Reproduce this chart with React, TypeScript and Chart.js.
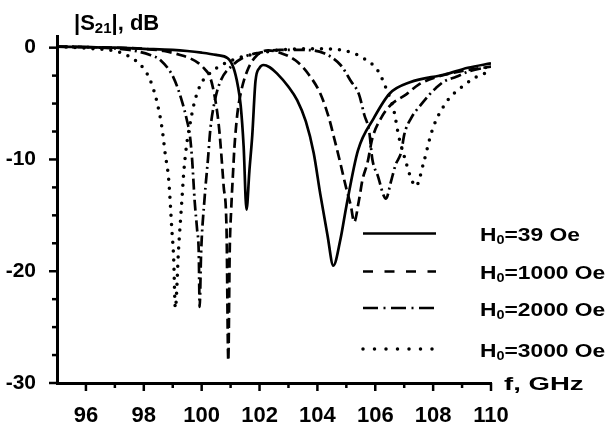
import { useEffect, useRef } from 'react';
import { Chart, registerables } from 'chart.js';

Chart.register(...registerables);

// ---- axis ticks ----
const xMajorTicks = [96, 98, 100, 102, 104, 106, 108, 110];
const xMinorTicks = [97, 99, 101, 103, 105, 107, 109];
const yMajorTicks = [0, -10, -20, -30];
const yMinorTicks = [-2.5, -5, -7.5, -12.5, -15, -17.5, -22.5, -25, -27.5];

// ---- series labels (H0, Oe) ----
const fieldLabels = ['39', '1000', '2000', '3000'];

// ---- H0 = 39 Oe (solid) ----
const freq39 = [95, 96, 97, 98, 99, 99.5, 100, 100.5, 100.9, 101.1, 101.25, 101.35, 101.45, 101.55, 101.65, 101.75, 101.86, 102, 102.14, 102.35, 102.6, 103, 103.3, 103.6, 103.87, 104.1, 104.35, 104.55, 104.8, 105, 105.4, 105.95, 106.5, 107.2, 108.4, 109.2, 110];
const s21_39 = [0.1, 0.05, 0, -0.1, -0.2, -0.3, -0.45, -0.65, -0.95, -1.8, -3.4, -5.2, -8.8, -14.5, -11, -7.8, -3.0, -1.8, -1.55, -1.75, -2.3, -3.5, -4.7, -6.6, -9.4, -13.1, -16.8, -19.5, -17.1, -14.2, -9.2, -6.3, -4.1, -3.1, -2.4, -1.8, -1.4];

// ---- H0 = 1000 Oe (dashed) ----
const freq1000 = [95, 97, 98, 98.7, 99.26, 99.6, 99.9, 100.1, 100.3, 100.48, 100.59, 100.65, 100.76, 100.86, 100.92, 100.97, 101.02, 101.09, 101.13, 101.23, 101.34, 101.57, 101.92, 102.3, 102.7, 103.25, 103.7, 104.1, 104.4, 104.58, 104.8, 104.98, 105.16, 105.27, 105.44, 105.56, 105.73, 105.9, 106.2, 106.54, 107.06, 107.5, 108.16, 108.97, 110];
const s21_1000 = [0.1, 0, -0.1, -0.3, -0.65, -0.95, -1.4, -1.9, -2.7, -4.8, -6.9, -8.6, -12.4, -16.3, -28, -18.1, -14.5, -10.9, -9.0, -6.0, -4.2, -2.1, -0.65, -0.25, -0.45, -1.15, -2.4, -4.1, -6.3, -8.1, -10.4, -12.4, -14.2, -15.6, -13.6, -11.8, -10.3, -8.1, -6.3, -5.1, -4.2, -3.3, -2.6, -2.1, -1.7];

// ---- H0 = 2000 Oe (dash-dot) ----
const freq2000 = [95, 96.5, 97.5, 98.22, 98.57, 99.03, 99.32, 99.5, 99.59, 99.67, 99.76, 99.84, 99.9, 99.93, 99.98, 100.1, 100.22, 100.3, 100.45, 100.65, 101.1, 101.5, 102, 102.7, 103.5, 104.23, 104.8, 105.16, 105.44, 105.62, 105.79, 105.9, 106.08, 106.37, 106.54, 106.7, 106.9, 107.0, 107.24, 107.58, 107.87, 108.1, 108.39, 108.8, 109.26, 110];
const s21_2000 = [0.1, 0, -0.2, -0.65, -1.1, -2.7, -4.8, -6.6, -7.8, -10, -13.8, -16.2, -18.4, -23.2, -18.4, -13.5, -9.9, -7.3, -4.8, -3.0, -1.5, -0.8, -0.45, -0.2, -0.2, -0.5, -1.55, -3.0, -4.2, -6.0, -7.5, -10, -11.4, -13.5, -12, -10.5, -9.3, -7.8, -6.3, -5.1, -4.2, -3.6, -3.0, -2.6, -2.1, -1.7];

// ---- H0 = 3000 Oe (dotted) ----
const freq3000 = [95, 96, 97, 97.4, 97.99, 98.22, 98.45, 98.63, 98.74, 98.86, 98.97, 99.03, 99.09, 99.2, 99.32, 99.38, 99.47, 99.6, 99.73, 99.96, 100.24, 100.59, 101.23, 102, 102.7, 104, 104.8, 105.6, 106.1, 106.4, 106.65, 106.8, 107.0, 107.24, 107.4, 107.7, 107.93, 108.1, 108.28, 108.5, 108.8, 109.1, 109.43, 110];
const s21_3000 = [0.1, -0.05, -0.3, -0.65, -1.85, -2.9, -4.8, -7.2, -9.5, -11.8, -16.3, -18.7, -23.3, -18.1, -13.5, -11.2, -8.9, -6.8, -5.1, -3.3, -2.4, -1.7, -0.95, -0.5, -0.2, -0.1, -0.2, -0.95, -2.1, -3.8, -5.7, -7.8, -9.7, -11.7, -12.4, -10, -7.7, -6.5, -5.6, -4.7, -3.9, -3.3, -2.7, -2.1];

const FONT = '"Liberation Sans", Arial, Helvetica, sans-serif';

const plotDashes: number[][] = [[], [10, 5], [11, 4, 2, 4], [0, 9]];
const legendDashes: number[][] = [[], [10, 11.5], [15, 5.5, 2, 5.5], [0, 11.5]];
const capStyles: CanvasLineCap[] = ['butt', 'butt', 'butt', 'round'];
const widths = [2.7, 2.7, 2.7, 3.5];

const toPoints = (xs: number[], ys: number[]) => xs.map((x, i) => ({ x, y: ys[i] }));

const decorPlugin = {
  id: 'decor',
  afterDraw(chart: any) {
    const { ctx, scales } = chart;
    const xs = scales.x;
    const ys = scales.y;
    const area = chart.chartArea;
    ctx.save();
    ctx.strokeStyle = '#000';
    ctx.fillStyle = '#000';
    ctx.lineWidth = 2.5;
    ctx.lineCap = 'butt';
    const seg = (x1: number, y1: number, x2: number, y2: number) => {
      ctx.beginPath();
      ctx.moveTo(x1, y1);
      ctx.lineTo(x2, y2);
      ctx.stroke();
    };
    xMajorTicks.forEach((v) => { const p = xs.getPixelForValue(v); seg(p, area.bottom, p, area.bottom + 8); });
    xMinorTicks.forEach((v) => { const p = xs.getPixelForValue(v); seg(p, area.bottom, p, area.bottom + 5); });
    yMajorTicks.forEach((v) => { const p = ys.getPixelForValue(v); seg(area.left - 8, p, area.left, p); });
    yMinorTicks.forEach((v) => { const p = ys.getPixelForValue(v); seg(area.left - 5, p, area.left, p); });

    // y axis title |S21|, dB
    ctx.textBaseline = 'alphabetic';
    ctx.textAlign = 'left';
    let tx = 74;
    const ty = 30;
    ctx.font = `bold 22px ${FONT}`;
    ctx.fillText('|S', tx, ty);
    tx += ctx.measureText('|S').width;
    ctx.font = `bold 15px ${FONT}`;
    ctx.fillText('21', tx, ty + 3);
    tx += ctx.measureText('21').width;
    ctx.font = `bold 22px ${FONT}`;
    ctx.fillText('|, dB', tx, ty);

    // legend
    const rowsY = [233.5, 271.5, 308, 349];
    const lx1 = 363;
    const lx2 = 436;
    fieldLabels.forEach((lab, i) => {
      const yy = rowsY[i];
      ctx.save();
      ctx.lineWidth = widths[i];
      ctx.lineCap = capStyles[i];
      ctx.setLineDash(legendDashes[i]);
      seg(lx1, yy, lx2, yy);
      ctx.restore();

      ctx.save();
      ctx.translate(480, yy + 7.5);
      ctx.scale(1.2, 1);
      ctx.font = `bold 19px ${FONT}`;
      ctx.fillText('H', 0, 0);
      let w = ctx.measureText('H').width;
      ctx.font = `bold 12px ${FONT}`;
      ctx.fillText('0', w, 3);
      w += ctx.measureText('0').width;
      ctx.font = `bold 19px ${FONT}`;
      ctx.fillText(`=${lab} Oe`, w, 0);
      ctx.restore();
    });

    // x axis title
    ctx.save();
    ctx.translate(504, 390);
    ctx.scale(1.45, 1);
    ctx.font = `bold 19px ${FONT}`;
    ctx.fillText('f, GHz', 0, 0);
    ctx.restore();

    ctx.restore();
  },
};

export default function App() {
  const ref = useRef<HTMLCanvasElement | null>(null);

  useEffect(() => {
    if (!ref.current) return;
    const series = [
      toPoints(freq39, s21_39),
      toPoints(freq1000, s21_1000),
      toPoints(freq2000, s21_2000),
      toPoints(freq3000, s21_3000),
    ];
    const chart = new Chart(ref.current, {
      type: 'line',
      data: {
        datasets: series.map((data, i) => ({
          label: `H0=${fieldLabels[i]} Oe`,
          data,
          borderColor: '#000',
          backgroundColor: '#000',
          borderWidth: widths[i],
          borderDash: plotDashes[i],
          borderCapStyle: capStyles[i],
          pointRadius: 0,
          fill: false,
          cubicInterpolationMode: 'monotone' as const,
        })),
      },
      options: {
        animation: false,
        responsive: false,
        layout: { padding: { top: 36.5, right: 125, left: 0, bottom: 0 } },
        plugins: { legend: { display: false }, tooltip: { enabled: false } },
        scales: {
          x: {
            type: 'linear',
            min: 95,
            max: 110,
            grid: { display: false },
            border: { display: true, color: '#000', width: 3 },
            afterBuildTicks: (s: any) => { s.ticks = xMajorTicks.map((v) => ({ value: v })); },
            afterFit: (s: any) => { s.height = 42; },
            ticks: {
              color: '#000',
              padding: 12,
              maxRotation: 0,
              autoSkip: false,
              font: { family: FONT, size: 22, weight: 'bold' },
              callback: (v: any) => String(v),
            },
          },
          y: {
            type: 'linear',
            min: -30,
            max: 1,
            grid: { display: false },
            border: { display: true, color: '#000', width: 3 },
            afterBuildTicks: (s: any) => { s.ticks = yMajorTicks.map((v) => ({ value: v })); },
            afterFit: (s: any) => { s.width = 57; },
            ticks: {
              color: '#000',
              padding: 13,
              autoSkip: false,
              font: { family: FONT, size: 21, weight: 'bold' },
              callback: (v: any) => String(v),
            },
          },
        },
      },
      plugins: [decorPlugin],
    });
    return () => chart.destroy();
  }, []);

  return (
    <div style={{ position: 'absolute', left: 0, top: 0, width: 616, height: 425, background: '#fff' }}>
      <canvas ref={ref} width={616} height={425} style={{ display: 'block' }} />
    </div>
  );
}
